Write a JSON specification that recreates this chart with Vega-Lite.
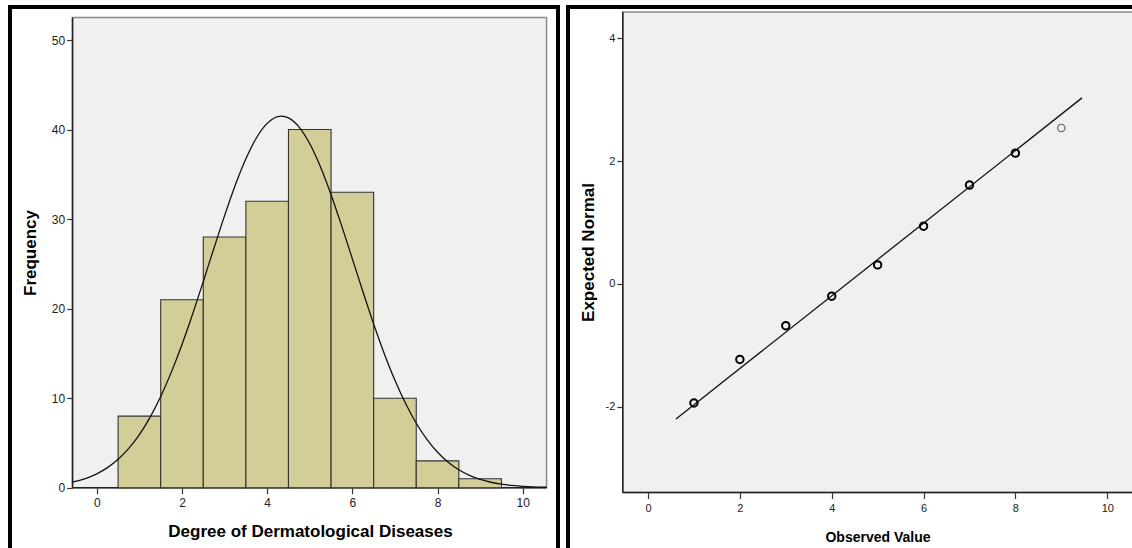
{
  "$schema": "https://vega.github.io/schema/vega-lite/v6.json",
  "background": "white",
  "padding": {"left": 8, "top": 5, "right": 0, "bottom": 0},
  "spacing": 10,
  "bounds": "flush",
  "config": {
    "axis": {"grid": false, "domain": false, "tickSize": 6, "tickColor": "#333", "tickWidth": 1.2, "labelColor": "#222", "titleColor": "#000"}
  },
  "datasets": {
    "bins": [
      {"bin_start": 0.5, "bin_end": 1.5, "count": 8},
      {"bin_start": 1.5, "bin_end": 2.5, "count": 21},
      {"bin_start": 2.5, "bin_end": 3.5, "count": 28},
      {"bin_start": 3.5, "bin_end": 4.5, "count": 32},
      {"bin_start": 4.5, "bin_end": 5.5, "count": 40},
      {"bin_start": 5.5, "bin_end": 6.5, "count": 33},
      {"bin_start": 6.5, "bin_end": 7.5, "count": 10},
      {"bin_start": 7.5, "bin_end": 8.5, "count": 3},
      {"bin_start": 8.5, "bin_end": 9.5, "count": 1}
    ],
    "curve": [
      {"x": -0.57, "y": 0.62}, {"x": -0.5, "y": 0.70}, {"x": -0.25, "y": 1.05},
      {"x": 0, "y": 1.55}, {"x": 0.25, "y": 2.24}, {"x": 0.5, "y": 3.17},
      {"x": 0.75, "y": 4.39}, {"x": 1, "y": 5.94}, {"x": 1.25, "y": 7.86},
      {"x": 1.5, "y": 10.18}, {"x": 1.75, "y": 12.91}, {"x": 2, "y": 16.0},
      {"x": 2.25, "y": 19.41}, {"x": 2.5, "y": 23.04}, {"x": 2.75, "y": 26.75},
      {"x": 3, "y": 30.39}, {"x": 3.25, "y": 33.78}, {"x": 3.5, "y": 36.74},
      {"x": 3.75, "y": 39.09}, {"x": 4, "y": 40.69}, {"x": 4.25, "y": 41.45},
      {"x": 4.335, "y": 41.5}, {"x": 4.5, "y": 41.3}, {"x": 4.75, "y": 40.27},
      {"x": 5, "y": 38.41}, {"x": 5.25, "y": 35.85}, {"x": 5.5, "y": 32.73},
      {"x": 5.75, "y": 29.24}, {"x": 6, "y": 25.56}, {"x": 6.25, "y": 21.86},
      {"x": 6.5, "y": 18.29}, {"x": 6.75, "y": 14.97}, {"x": 7, "y": 11.99},
      {"x": 7.25, "y": 9.4}, {"x": 7.5, "y": 7.2}, {"x": 7.75, "y": 5.4},
      {"x": 8, "y": 3.96}, {"x": 8.25, "y": 2.85}, {"x": 8.5, "y": 2.0},
      {"x": 8.75, "y": 1.37}, {"x": 9, "y": 0.92}, {"x": 9.25, "y": 0.61},
      {"x": 9.5, "y": 0.39}, {"x": 9.75, "y": 0.25}, {"x": 10, "y": 0.15},
      {"x": 10.25, "y": 0.09}, {"x": 10.56, "y": 0.05}
    ],
    "qq": [
      {"observed": 1, "expected": -1.94, "n": 8},
      {"observed": 2, "expected": -1.23, "n": 21},
      {"observed": 3, "expected": -0.68, "n": 28},
      {"observed": 4, "expected": -0.2, "n": 32},
      {"observed": 5, "expected": 0.31, "n": 40},
      {"observed": 6, "expected": 0.94, "n": 33},
      {"observed": 7, "expected": 1.61, "n": 10},
      {"observed": 8, "expected": 2.13, "n": 3},
      {"observed": 9, "expected": 2.54, "n": 1}
    ],
    "refline": [
      {"observed": 0.61, "expected": -2.2},
      {"observed": 9.45, "expected": 3.03}
    ]
  },
  "hconcat": [
    {
      "width": 548,
      "height": 545,
      "view": {"stroke": "black", "strokeWidth": 4, "fill": "white"},
      "layer": [
        {
          "data": {"values": [{}]},
          "mark": {"type": "rect", "fill": "#F0F0F0", "stroke": "#8a8a8a", "strokeWidth": 1.5},
          "encoding": {
            "x": {"datum": -0.57, "type": "quantitative",
              "scale": {"domain": [-2.038, 10.828], "nice": false, "zero": false},
              "axis": {"orient": "bottom", "offset": -64.3, "values": [0, 2, 4, 6, 8, 10],
                "labelFont": "Liberation Sans", "labelFontSize": 12, "labelPadding": 4,
                "labelExpr": "'' + datum.value",
                "title": "Degree of Dermatological Diseases", "titleFont": "Liberation Sans", "titleFontSize": 17,
                "titleFontWeight": "bold", "titleX": 300, "titleY": 43.5,
                "titleAlign": "center", "titleBaseline": "middle"}},
            "x2": {"datum": 10.56},
            "y": {"datum": 0, "type": "quantitative",
              "scale": {"domain": [-7.18, 53.69], "nice": false, "zero": false},
              "axis": {"orient": "left", "offset": -62.7, "values": [0, 10, 20, 30, 40, 50],
                "labelFont": "Liberation Sans", "labelFontSize": 12, "labelPadding": 2,
                "labelExpr": "'' + datum.value",
                "title": "Frequency", "titleFont": "Liberation Sans", "titleFontSize": 17,
                "titleFontWeight": "bold", "titleX": -41.7, "titleY": 245.5,
                "titleAngle": -90, "titleAlign": "center", "titleBaseline": "middle"}},
            "y2": {"datum": 52.53}
          }
        },
        {
          "data": {"values": [{}]},
          "mark": {"type": "rule", "stroke": "#222", "strokeWidth": 1.5},
          "encoding": {
            "x": {"datum": -0.57, "type": "quantitative"},
            "y": {"datum": 0, "type": "quantitative"},
            "x2": {"datum": 10.56}
          }
        },
        {
          "data": {"values": [{}]},
          "mark": {"type": "rule", "stroke": "#222", "strokeWidth": 1.5},
          "encoding": {
            "x": {"datum": -0.57, "type": "quantitative"},
            "y": {"datum": 0, "type": "quantitative"},
            "y2": {"datum": 52.53}
          }
        },
        {
          "data": {"name": "bins"},
          "mark": {"type": "rect", "fill": "#D3CE97", "stroke": "#333", "strokeWidth": 1.1},
          "encoding": {
            "x": {"field": "bin_start", "type": "quantitative"},
            "x2": {"field": "bin_end"},
            "y": {"field": "count", "type": "quantitative"},
            "y2": {"datum": 0}
          }
        },
        {
          "data": {"name": "curve"},
          "mark": {"type": "line", "color": "#111", "strokeWidth": 1.3, "interpolate": "monotone"},
          "encoding": {
            "x": {"field": "x", "type": "quantitative"},
            "y": {"field": "y", "type": "quantitative"}
          }
        }
      ]
    },
    {
      "width": 576,
      "height": 545,
      "view": {"stroke": "black", "strokeWidth": 4, "fill": "white"},
      "layer": [
        {
          "data": {"values": [{}]},
          "mark": {"type": "rect", "fill": "#F0F0F0", "stroke": "#8a8a8a", "strokeWidth": 1.5},
          "encoding": {
            "x": {"datum": -0.549, "type": "quantitative",
              "scale": {"domain": [-1.742, 10.8], "nice": false, "zero": false},
              "axis": {"orient": "bottom", "offset": -59.5, "values": [0, 2, 4, 6, 8, 10],
                "labelFont": "Liberation Sans", "labelFontSize": 11, "labelPadding": 4,
                "labelExpr": "'' + datum.value",
                "title": "Observed Value", "titleFont": "Liberation Sans", "titleFontSize": 14,
                "titleFontWeight": "bold", "titleX": 309.5, "titleY": 44.5,
                "titleAlign": "center", "titleBaseline": "middle"}},
            "x2": {"datum": 10.6},
            "y": {"datum": -3.397, "type": "quantitative",
              "scale": {"domain": [-4.366, 4.51], "nice": false, "zero": false},
              "axis": {"orient": "left", "offset": -54.8, "values": [-2, 0, 2, 4],
                "labelFont": "Liberation Sans", "labelFontSize": 11, "labelPadding": 2,
                "labelExpr": "'' + datum.value",
                "title": "Expected Normal", "titleFont": "Liberation Sans", "titleFontSize": 17,
                "titleFontWeight": "bold", "titleX": -34.3, "titleY": 245,
                "titleAngle": -90, "titleAlign": "center", "titleBaseline": "middle"}},
            "y2": {"datum": 4.428}
          }
        },
        {
          "data": {"values": [{}]},
          "mark": {"type": "rule", "stroke": "#222", "strokeWidth": 1.5},
          "encoding": {
            "x": {"datum": -0.549, "type": "quantitative"},
            "y": {"datum": -3.397, "type": "quantitative"},
            "x2": {"datum": 10.6}
          }
        },
        {
          "data": {"values": [{}]},
          "mark": {"type": "rule", "stroke": "#222", "strokeWidth": 1.5},
          "encoding": {
            "x": {"datum": -0.549, "type": "quantitative"},
            "y": {"datum": -3.397, "type": "quantitative"},
            "y2": {"datum": 4.428}
          }
        },
        {
          "data": {"name": "refline"},
          "mark": {"type": "line", "color": "#111", "strokeWidth": 1.3},
          "encoding": {
            "x": {"field": "observed", "type": "quantitative"},
            "y": {"field": "expected", "type": "quantitative"}
          }
        },
        {
          "data": {"name": "qq"},
          "mark": {"type": "point", "shape": "circle", "filled": false, "size": 55},
          "encoding": {
            "x": {"field": "observed", "type": "quantitative"},
            "y": {"field": "expected", "type": "quantitative"},
            "stroke": {"condition": {"test": "datum.n > 1", "value": "#000"}, "value": "#666"},
            "strokeWidth": {"condition": {"test": "datum.n > 1", "value": 2}, "value": 1.2},
            "opacity": {"value": 1}
          }
        }
      ]
    }
  ]
}
